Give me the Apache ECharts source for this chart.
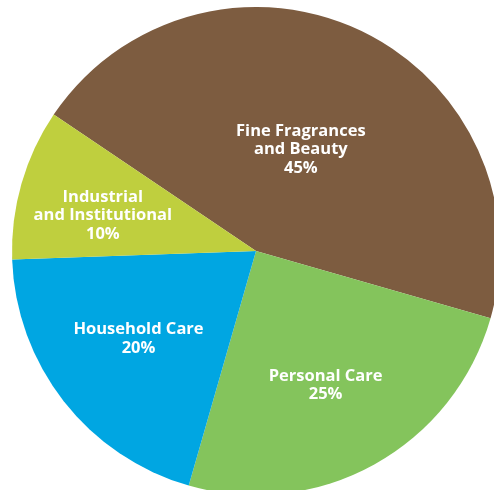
<!DOCTYPE html>
<html>
<head>
<meta charset="utf-8">
<style>
  html, body { margin: 0; padding: 0; background: #ffffff; }
  #chart { width: 494px; height: 490px; }
</style>
<script src="https://cdn.jsdelivr.net/npm/echarts@6/dist/echarts.min.js"></script>
</head>
<body>
<div id="chart"></div>
<script>
// Market share by segment
const segments = ['Fine Fragrances\nand Beauty', 'Personal Care', 'Household Care', 'Industrial\nand Institutional'];
const shares = [45, 25, 20, 10];
const colors = ['#7d5c40', '#84c45c', '#00a6e2', '#bfcf3e'];
// nudges of each label away from the slice's mid-radius point
const labelOffsets = [[-8, 12], [9, 25], [-19, 11], [-33, -1]];

const chart = echarts.init(document.getElementById('chart'), null, { renderer: 'canvas' });

chart.setOption({
  backgroundColor: '#ffffff',
  animation: false,
  series: [{
    type: 'pie',
    center: [256, 251],
    radius: [0, 244],
    startAngle: 146,
    clockwise: true,
    avoidLabelOverlap: false,
    itemStyle: { borderWidth: 0 },
    label: {
      position: 'inside',
      color: '#ffffff',
      fontFamily: '"Open Sans", sans-serif',
      fontWeight: 'bold',
      fontSize: 16.5,
      lineHeight: 18.5,
      align: 'center',
      formatter: p => p.name + '\n' + p.value + '%'
    },
    labelLine: { show: false },
    emphasis: { disabled: true },
    data: segments.map((name, i) => ({
      name: name,
      value: shares[i],
      itemStyle: { color: colors[i] },
      label: { offset: labelOffsets[i] }
    }))
  }]
});
</script>
</body>
</html>
